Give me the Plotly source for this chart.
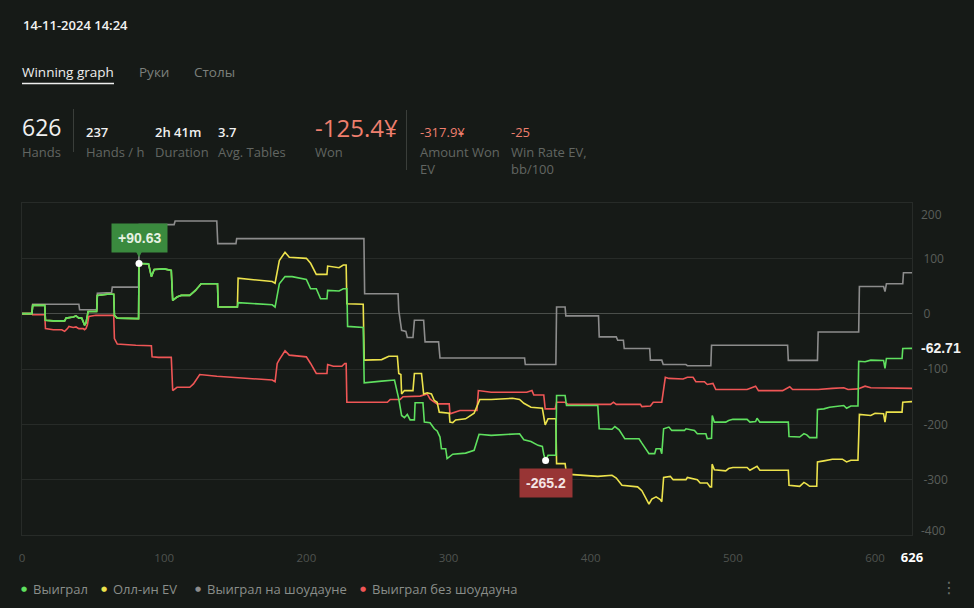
import plotly.graph_objects as go
import numpy as np

# ---------------- data (hand, value) ----------------
WON = [(0,0),(7,0),(7.5,15),(16,15),(16.5,-12),(22,-13),(30,-13),(31,-8),(36,-6),(38,-4),(40,-8),(42,-8),
       (43,-14),(44,-21),(45,-17),(46,-6),(46.5,4),(52.5,4),(53,33),(60,35),(64.5,35),(65,-3),(67,-8),(82,-9),
       (82.3,90.63),(89,90),(91,67),(93,80),(100,81),(105,78),(106,24),(109,30),(112,33),(118,33),(122,42),
       (126,54),(137.5,54),(138,12),(151.5,12),(152,20),(165,18),(176,16),(178,12),(179.5,30),(181,54),(185,67),
       (190,67),(200,62),(203,45),(207,45),(210,27),(214.5,27),(215,42),(223,41),(226,45),(228.5,45),(229,-23),
       (240,-25),(240.7,-125),(253,-122),(262,-120),(265,-154),(267,-184),(269,-188),(271,-182),(273,-192),
       (276,-192),(276.5,-161),(282,-161),(283,-196),(287,-197),(290,-208),(292,-212),(294,-223),(295,-244),
       (298,-244),(299,-262),(303,-254),(312,-252),(318,-247),(321.5,-218),(330,-220),(345,-217),(350,-217),
       (353,-228),(358,-231),(363,-238),(366,-240),(367,-254),(368.3,-265.2),(370,-256),(375.5,-256),(376,-148),
       (382,-148),(383,-166),(405,-166),(406,-208),(415,-209),(417,-204),(420,-210),(424,-226),(434,-226),
       (436,-234),(441,-253),(445,-253),(446,-244),(449,-244),(450,-253),(451.3,-208),(455,-205),(457,-211),
       (466,-211),(467,-208),(473,-211),(475,-217),(481,-217),(482,-226),(485,-225),(485.5,-184),(487,-196),
       (495,-196),(497,-193),(500,-191),(510,-191),(512,-196),(516,-195),(517,-189),(519,-196),(539,-196),
       (539.5,-222),(547,-223),(550,-217),(552,-219),(554,-224),(559,-224),(559.5,-173),(564,-172),(568,-169),
       (578,-166),(580,-171),(583,-167),(588,-167),(588.5,-86),(593,-87),(597,-84),(606,-84.5),(607,-99),
       (608,-81),(619,-81),(619.5,-63),(626,-62.71)]

ALLIN_EV = [(0,0),(7,0),(7.5,15),(16,15),(16.5,-12),(22,-13),(30,-13),(31,-8),(36,-6),(38,-4),(40,-8),(42,-8),
       (43,-14),(44,-21),(45,-17),(46,-6),(46.5,4),(52.5,4),(53,33),(60,35),(64.5,35),(65,-3),(67,-8),(82,-9),
       (82.3,90.63),(89,90),(91,67),(93,80),(100,81),(105,78),(106,24),(109,30),(112,33),(118,33),(122,42),
       (126,54),(137.5,54),(138,12),(151.5,12),(152,64),(165,61),(176,58),(178,55),(179.5,75),(181,96),(185,111),
       (188,102),(200,100),(203,91),(207,71),(214.5,71),(215,86),(223,83),(226,88),(228,88),(228.5,18),(240,17),
       (240.7,-84),(253,-83),(258,-77),(264,-77),(265,-108),(266.5,-110),(267,-145),(269,-139),(275,-139),
       (276,-108),(281,-108),(282.5,-145),(285,-143),(288,-145),(290,-157),(292,-160),(293.5,-178),(300.5,-180),
       (301,-196),(303,-197),(305,-192),(312,-190),(318,-180),(322,-155),(330,-155),(345,-153),(350,-155),
       (353,-162),(358,-169),(366,-171),(368,-201),(370,-190),(375.5,-190),(376,-271),(382,-271),(383,-290),
       (405,-294),(415,-292),(418,-297),(422,-310),(433,-313),(436,-320),(441,-344),(443,-335),(446,-331),
       (449,-336),(450,-340),(451.3,-296),(456,-294),(458,-300),(467,-300),(468,-296),(475,-300),(477,-306),
       (482,-306),(484,-313),(485,-313),(485.4,-272),(487,-282),(495,-284),(497,-280),(500,-278),(510,-278),
       (512,-283),(517,-276),(519,-283),(539,-283),(539.5,-310),(547,-312),(550,-305),(552,-308),(554,-312),
       (559,-312),(559.5,-268),(564,-266),(570,-263),(577,-263),(580,-268),(583,-265),(588,-265),(589,-182),
       (593,-183),(597,-184),(600,-180),(606,-181),(607,-196),(608,-178),(619,-178),(619.5,-160),(626,-159)]

SHOWDOWN = [(0,0),(7,0),(7.5,17),(40,17),(40.5,7),(52.5,7),(53,37),(60,38),(63,38),(63.5,48),(82,48),(82.5,161),
       (107,161),(107.7,167.5),(137,167.5),(137.7,126.6),(150.5,126.6),(151,135.6),(240.5,135.6),(241,36),
       (264.5,36),(265,6),(267,-30),(270,-32),(271,-43),(275,-43),(276,-12),(282.5,-12),(283.5,-51),(293,-51),
       (294,-80),(353.5,-80),(354,-92),(375.5,-92),(376,12),(382,12),(382.5,-4),(405.5,-4),(406,-42),(418,-42),
       (419,-48),(423,-48),(423.6,-63),(441.5,-63),(442,-84),(450,-84),(451,-92),(467,-92),(468,-94),
       (484.5,-94),(485,-57),(538.5,-57),(539,-84.5),(559.5,-84.5),(560,-33),(588.5,-33),(589,49),(606,49),
       (607,40),(608,54),(619.5,54),(620,74),(626,74)]

NON_SHOWDOWN = [(0,0),(7,0),(7.5,-2),(16,-2),(16.5,-27),(22,-29),(28,-29),(30,-32),(32,-27),(33,-23),(36,-25),
       (38,-24),(40,-27),(43,-27),(44,-29),(45,-27),(46,-20),(47,-5),(52,-3),(64.5,-3),(65,-45),(67,-55),
       (80,-57),(91,-58),(91.5,-78),(96,-79),(105,-79),(106,-139),(109,-133),(118,-133),(120.6,-127),(125,-110),
       (137,-113),(150,-115),(165,-117),(176,-120),(178,-123),(179.5,-90),(181,-83),(185,-67),(188,-75),
       (200,-78),(203,-90),(207,-108),(214.5,-108),(215,-92),(219,-95),(225,-95),(227,-90),(228,-90),
       (228.5,-160),(240,-160),(257,-160),(259,-155),(266,-155),(268,-150),(280,-149),(285,-145),(287,-154),
       (289,-158),(292,-163),(299,-163),(300.5,-163),(301,-181),(304,-179),(308,-175),(320,-175),(321,-139),
       (330,-142),(350,-141),(355,-142),(358.7,-139),(360,-147),(367,-147),(368,-172),(375,-172),(376,-160),
       (382,-160),(384,-164),(414,-164),(416,-160),(418,-164),(435,-164),(436,-168),(442,-167),(444,-160),
       (450,-160),(452.5,-115),(455,-117),(465,-118),(468,-115),(472,-115),(474,-123),(480,-123),(482,-128),
       (486,-126),(488,-137),(495,-137),(510,-137),(516,-131),(518,-139),(535,-139),(540,-132),(542,-137),
       (560,-137),(570,-135),(578,-134),(581,-137),(584,-136),(588,-136),(593,-131),(597,-134),(626,-135)]

SERIES_NAMES = ["Выиграл", "Олл-ин EV", "Выиграл на шоудауне", "Выиграл без шоудауна"]
SERIES_COLORS = ["#5fe05f", "#ece24c", "#8c8c8c", "#ef5656"]

X_TICKS = [0, 100, 200, 300, 400, 500, 600, 626]
Y_TICKS_INNER = [100, 0, -100, -200, -300]
Y_TICK_TOP = [200]
Y_TICK_BOTTOM = [-400]

DATE_TEXT = "14-11-2024 14:24"
TABS = ["Winning graph", "Руки", "Столы"]
STAT_VALUES = ["626", "237", "2h 41m", "3.7", "-125.4¥", "-317.9¥", "-25"]
STAT_LABELS = ["Hands", "Hands / h", "Duration", "Avg. Tables", "Won", "Amount Won<br>EV", "Win Rate EV,<br>bb/100"]

# ---------------- layout geometry ----------------
W, H = 974, 608
PL, PR, PT, PB = 22, 912, 203, 535
BG = "#161a17"
FONT = "Open Sans"
Y_RANGE = [-400, 200]


def px(xp):
    return (xp - PL) / (PR - PL)


def py(yp):
    return (PB - yp) / (PB - PT)


fig = go.Figure()

series = [SHOWDOWN, NON_SHOWDOWN, ALLIN_EV, WON]
order = [2, 3, 1, 0]
for data, idx in zip(series, order):
    xs = [p[0] for p in data]
    ys = [p[1] for p in data]
    fig.add_trace(go.Scatter(x=xs, y=ys, mode="lines", name=SERIES_NAMES[idx],
                             line=dict(color=SERIES_COLORS[idx], width=1.6),
                             showlegend=False, hoverinfo="skip"))

# helper (invisible) traces so the overlay axes carrying the edge tick labels are drawn
for yname, tv in (("y2", Y_TICK_TOP), ("y3", Y_TICK_BOTTOM)):
    fig.add_trace(go.Scatter(x=[X_TICKS[0]], y=tv, yaxis=yname, mode="lines",
                             line=dict(width=0), showlegend=False, hoverinfo="skip"))

won_x = np.array([p[0] for p in WON])
won_y = np.array([p[1] for p in WON])
imax, imin = int(np.argmax(won_y)), int(np.argmin(won_y))
fig.add_trace(go.Scatter(x=[won_x[imax], won_x[imin]], y=[won_y[imax], won_y[imin]], mode="markers",
                         marker=dict(color="white", size=7), showlegend=False, hoverinfo="skip"))

ann = []
# max / min callouts
ann.append(dict(x=won_x[imax], y=won_y[imax], xref="x", yref="y", text=f"<b>+{won_y[imax]:.2f}</b>",
                showarrow=True, arrowhead=2, arrowsize=1, arrowwidth=2.5, arrowcolor="#3a8a3e",
                ax=0, ay=-11, standoff=6, yanchor="bottom", bgcolor="#3a8a3e", borderpad=6,
                font=dict(family="Liberation Sans", size=14, color="#e6f2e2")))
ann.append(dict(x=won_x[imin], y=won_y[imin], xref="x", yref="y", text=f"<b>{won_y[imin]:.1f}</b>",
                showarrow=True, arrowhead=2, arrowsize=1, arrowwidth=2.5, arrowcolor="#983535",
                ax=0, ay=8, standoff=5, yanchor="top", bgcolor="#983535", borderpad=6,
                font=dict(family="Liberation Sans", size=14, color="#f4e4e4")))
# last value label
ann.append(dict(x=1, y=won_y[-1], xref="paper", yref="y", text=f"<b>{won_y[-1]:.2f}</b>", showarrow=False,
                xanchor="left", xshift=7, font=dict(family="Liberation Sans", size=14, color="#f2f2f2")))

# header
ann.append(dict(x=px(22), y=py(25), xref="paper", yref="paper", text=DATE_TEXT, showarrow=False,
                xanchor="left", yanchor="middle", xshift=-1,
                font=dict(family=FONT, size=13, color="#f2f2f2", weight=600)))
tab_x = [22, 139, 194]
tab_col = ["#eeeeee", "#7c807c", "#7c807c"]
for t, x0, c in zip(TABS, tab_x, tab_col):
    ann.append(dict(x=px(x0), y=py(71.5), xref="paper", yref="paper", text=t, showarrow=False,
                    xanchor="left", yanchor="middle", xshift=-2, font=dict(family=FONT, size=13.5, color=c)))

val_x = [22, 86, 155, 218, 315, 420, 511]
val_size = [23, 13, 13, 13, 24, 13, 13]
val_col = ["#f0f0f0", "#f0f0f0", "#f0f0f0", "#f0f0f0", "#ef7f6e", "#ef7f6e", "#ef7f6e"]
val_w = [400, 600, 600, 600, 400, 400, 400]
val_y = [127, 131.5, 131.5, 131.5, 127, 131.5, 131.5]
for v, l, x0, s, c, w, yv in zip(STAT_VALUES, STAT_LABELS, val_x, val_size, val_col, val_w, val_y):
    ann.append(dict(x=px(x0), y=py(yv), xref="paper", yref="paper", text=v, showarrow=False,
                    xanchor="left", yanchor="middle", xshift=-2, font=dict(family=FONT, size=s, color=c, weight=w)))
    ann.append(dict(x=px(x0), y=py(140.5), xref="paper", yref="paper", text=l, showarrow=False,
                    xanchor="left", yanchor="top", xshift=-2, align="left",
                    font=dict(family=FONT, size=13, color="#626662")))

# legend
leg_dot = [23.6, 104.3, 197.5, 363.4]
for name, col, xd in zip(SERIES_NAMES, SERIES_COLORS, leg_dot):
    ann.append(dict(x=px(xd), y=py(589), xref="paper", yref="paper", text="●", showarrow=False,
                    xanchor="center", yanchor="middle", font=dict(family="DejaVu Sans", size=7, color=col)))
    ann.append(dict(x=px(xd + 7), y=py(589), xref="paper", yref="paper", text=name, showarrow=False,
                    xanchor="left", yanchor="middle", font=dict(family=FONT, size=13, color="#8a8e8a")))
ann.append(dict(x=px(949), y=py(587), xref="paper", yref="paper", text="⋮", showarrow=False,
                xanchor="center", yanchor="middle", font=dict(family="DejaVu Sans", size=16, color="#6c706c")))

shapes = [
    dict(type="line", xref="paper", yref="paper", x0=px(22), x1=px(114), y0=py(83.5), y1=py(83.5),
         line=dict(color="#eeeeee", width=1.5)),
    dict(type="line", xref="paper", yref="paper", x0=px(73.5), x1=px(73.5), y0=py(109), y1=py(152),
         line=dict(color="#3a3e3a", width=1)),
    dict(type="line", xref="paper", yref="paper", x0=px(406.5), x1=px(406.5), y0=py(110), y1=py(170),
         line=dict(color="#3a3e3a", width=1)),
]

x_text = [str(v) for v in X_TICKS]
x_text[-1] = "<span style='color:#ffffff;font-size:13px'><b>%d</b></span>" % X_TICKS[-1]

ytickfont = dict(family=FONT, size=12, color="#5a5e5a")
fig.update_layout(
    width=W, height=H,
    margin=dict(l=PL, r=W - PR, t=PT, b=H - PB, pad=0),
    paper_bgcolor=BG, plot_bgcolor=BG,
    showlegend=False,
    annotations=ann, shapes=shapes,
    xaxis=dict(range=[0, 626], tickvals=X_TICKS, ticktext=x_text, showgrid=False, zeroline=False,
               showline=True, mirror=True, linecolor="#272b28", linewidth=1, ticks="",
               ticklabelstandoff=12, tickfont=dict(family=FONT, size=11.5, color="#4f534f")),
    yaxis=dict(range=Y_RANGE, tickvals=Y_TICKS_INNER, ticktext=[str(v) for v in Y_TICKS_INNER], side="right",
               showgrid=True, gridcolor="#272b28", gridwidth=1, zeroline=True, zerolinecolor="#4a4e4a",
               zerolinewidth=1, showline=True, mirror=True, linecolor="#272b28", linewidth=1, ticks="",
               ticklabelstandoff=8, tickfont=ytickfont),
    yaxis2=dict(range=Y_RANGE, overlaying="y", side="right", tickvals=Y_TICK_TOP,
                ticktext=[str(v) for v in Y_TICK_TOP], showgrid=False, zeroline=False, showline=False,
                ticks="", ticklabelstandoff=8, ticklabelshift=12, tickfont=ytickfont),
    yaxis3=dict(range=Y_RANGE, overlaying="y", side="right", tickvals=Y_TICK_BOTTOM,
                ticktext=[str(v) for v in Y_TICK_BOTTOM], showgrid=False, zeroline=False, showline=False,
                ticks="", ticklabelstandoff=8, ticklabelshift=-4, tickfont=ytickfont),
)

fig.write_html("out.html")
